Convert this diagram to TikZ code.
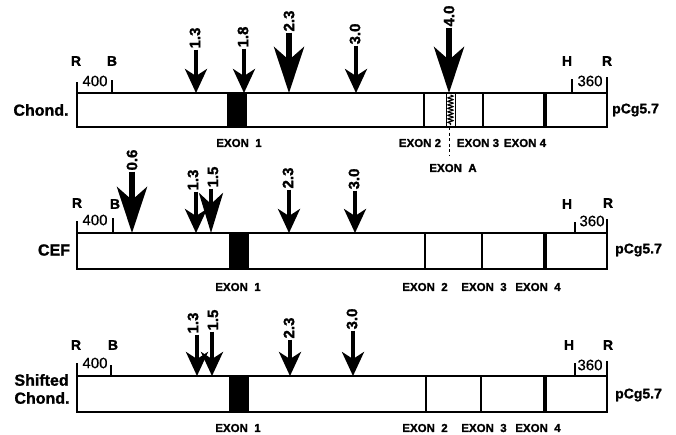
\documentclass[tikz,border=0pt]{standalone}
\usepackage{fontspec}
\setmainfont{Liberation Sans}[BoldFeatures={FakeBold=1.3}, UprightFeatures={FakeBold=0.6}]
\usetikzlibrary{arrows.meta,decorations.pathmorphing}
\begin{document}
\begin{tikzpicture}[x=1pt,y=-1pt,
  boxline/.style={line width=2pt},
  tickline/.style={line width=1.5pt},
  exonthin/.style={line width=2.6pt},
  rowlbl/.style={font=\fontsize{16}{18}\selectfont\bfseries, inner sep=0pt, align=left},
  sitelbl/.style={font=\fontsize{14}{14}\selectfont\bfseries, inner sep=0pt},
  numlbl/.style={font=\fontsize{15}{15}\selectfont, inner sep=0pt},
  exonlbl/.style={font=\fontsize{11.5}{12}\selectfont\bfseries, inner sep=0pt},
  plbl/.style={font=\fontsize{14}{14}\selectfont\bfseries, inner sep=0pt, anchor=west},
  alab/.style={font=\fontsize{15}{15}\selectfont\bfseries, inner sep=1pt, rotate=90},
  smallarr/.style={line width=3.6pt, -{Stealth[length=24pt,width=22pt,inset=7pt]}},
  medarr/.style={line width=4.5pt, -{Stealth[length=40pt,width=24pt,inset=11pt]}},
  largearr/.style={line width=6pt, -{Stealth[length=46pt,width=30pt,inset=13pt]}},
]
\useasboundingbox (0,0) rectangle (676,434);

% ================= Panel 1: Chond. =================
\draw[boxline] (77,93) rectangle (607,127);
\fill (227,93) rectangle (247,127);
\draw[exonthin] (424,93) -- (424,127);
\draw[exonthin] (483,93) -- (483,127);
\fill (543,93) rectangle (547,127);
\fill[white] (446,94) rectangle (455,126);
\draw[line width=0.6pt] (446,94) -- (446,126) (455,94) -- (455,126);
\draw[line width=1.1pt, decorate, decoration={snake, amplitude=2.6pt, segment length=3.5pt}] (450.5,95) -- (450.5,125);
\coordinate (dA1) at (449,127);
\coordinate (dA2) at (449,156);
\draw[line width=1pt, dash pattern=on 3pt off 2.5pt] (dA1) -- (dA2);
% ticks
\draw[tickline] (77,82) -- (77,93);
\draw[tickline] (112,80) -- (112,93);
\draw[tickline] (572,79) -- (572,93);
\draw[tickline] (607,77) -- (607,93);
\node[sitelbl] (r1a) at (76,61) {R};
\node[sitelbl] (b1) at (112,61) {B};
\node[sitelbl] (h1) at (567,61) {H};
\node[sitelbl] (r1b) at (607,61) {R};
\node[numlbl] (n400a) at (95,81) {400};
\node[numlbl] (n360a) at (590,81) {360};
\node[rowlbl] (chond) at (41,110) {Chond.};
\node[plbl] (p1) at (612,110) {pCg5.7};
\node[exonlbl] (e11) at (239,143) {EXON\ \ 1};
\node[exonlbl] (e21) at (420,143) {EXON 2};
\node[exonlbl] (e31) at (478,143) {EXON 3};
\node[exonlbl] (e41) at (525,143) {EXON 4};
\node[exonlbl] (eA) at (453,168) {EXON\ \ A};
% arrows
\node[alab] (a1a) at (195,38) {1.3};
\coordinate (t1a) at (196,93);
\draw[smallarr] (a1a.west -| t1a) -- (t1a);
\node[alab] (a1b) at (243,37) {1.8};
\coordinate (t1b) at (244,93);
\draw[smallarr] (a1b.west -| t1b) -- (t1b);
\node[alab] (a1c) at (289,21) {2.3};
\coordinate (t1c) at (289,93);
\draw[largearr] (a1c.west -| t1c) -- (t1c);
\node[alab] (a1d) at (355,34) {3.0};
\coordinate (t1d) at (356,93);
\draw[smallarr] (a1d.west -| t1d) -- (t1d);
\node[alab] (a1e) at (449,16) {4.0};
\coordinate (t1e) at (449,93);
\draw[largearr] (a1e.west -| t1e) -- (t1e);

% ================= Panel 2: CEF =================
\draw[boxline] (77,233) rectangle (607,269);
\fill (229,233) rectangle (249,269);
\draw[exonthin] (425,233) -- (425,269);
\draw[exonthin] (482,233) -- (482,269);
\fill (543,233) rectangle (547,269);
\draw[tickline] (77,221) -- (77,233);
\draw[tickline] (113,218) -- (113,233);
\draw[tickline] (575,222) -- (575,233);
\draw[tickline] (607,219) -- (607,233);
\node[sitelbl] (r2a) at (77,203) {R};
\node[sitelbl] (b2) at (115,204) {B};
\node[sitelbl] (h2) at (567,204) {H};
\node[sitelbl] (r2b) at (608,203) {R};
\node[numlbl] (n400b) at (95,220) {400};
\node[numlbl] (n360b) at (592,221) {360};
\node[rowlbl] (cef) at (54,250) {CEF};
\node[plbl] (p2) at (615,250) {pCg5.7};
\node[exonlbl] (e12) at (238,287) {EXON\ \ 1};
\node[exonlbl] (e22) at (425,287) {EXON\ \ 2};
\node[exonlbl] (e32) at (484,287) {EXON\ \ 3};
\node[exonlbl] (e42) at (538,287) {EXON\ \ 4};
\node[alab] (a2a) at (132,160) {0.6};
\coordinate (t2a) at (132,233);
\draw[largearr] (a2a.west -| t2a) -- (t2a);
\node[alab] (a2b) at (193,180) {1.3};
\coordinate (t2b) at (196,233);
\draw[smallarr] (a2b.west -| t2b) -- (t2b);
\node[alab] (a2c) at (213,177) {1.5};
\coordinate (t2c) at (211,233);
\draw[medarr] (a2c.west -| t2c) -- (t2c);
\node[alab] (a2d) at (288,178) {2.3};
\coordinate (t2d) at (289,233);
\draw[smallarr] (a2d.west -| t2d) -- (t2d);
\node[alab] (a2e) at (354,179) {3.0};
\coordinate (t2e) at (355,233);
\draw[smallarr] (a2e.west -| t2e) -- (t2e);

% ================= Panel 3: Shifted Chond. =================
\draw[boxline] (77,376) rectangle (607,412);
\fill (229,376) rectangle (249,412);
\draw[exonthin] (426,376) -- (426,412);
\draw[exonthin] (481,376) -- (481,412);
\fill (543,376) rectangle (547,412);
\draw[tickline] (77,363) -- (77,376);
\draw[tickline] (111,365) -- (111,376);
\draw[tickline] (575,363) -- (575,376);
\draw[tickline] (607,361) -- (607,376);
\node[sitelbl] (r3a) at (76,345) {R};
\node[sitelbl] (b3) at (113,345) {B};
\node[sitelbl] (h3) at (569,345) {H};
\node[sitelbl] (r3b) at (608,345) {R};
\node[numlbl] (n400c) at (95,363) {400};
\node[numlbl] (n360c) at (590,365) {360};
\node[rowlbl] (shc) at (42,389) {Shifted\\Chond.};
\node[plbl] (p3) at (615,395) {pCg5.7};
\node[exonlbl] (e13) at (238,428) {EXON\ \ 1};
\node[exonlbl] (e23) at (425,428) {EXON\ \ 2};
\node[exonlbl] (e33) at (484,428) {EXON\ \ 3};
\node[exonlbl] (e43) at (538,428) {EXON\ \ 4};
\node[alab] (a3a) at (193,323) {1.3};
\coordinate (t3a) at (197,376);
\draw[smallarr] (a3a.west -| t3a) -- (t3a);
\node[alab] (a3b) at (213,320) {1.5};
\coordinate (t3b) at (212,376);
\draw[smallarr] (a3b.west -| t3b) -- (t3b);
\node[alab] (a3c) at (289,328) {2.3};
\coordinate (t3c) at (290,376);
\draw[smallarr] (a3c.west -| t3c) -- (t3c);
\node[alab] (a3d) at (352,319) {3.0};
\coordinate (t3d) at (353,376);
\draw[smallarr] (a3d.west -| t3d) -- (t3d);
\end{tikzpicture}
\end{document}
